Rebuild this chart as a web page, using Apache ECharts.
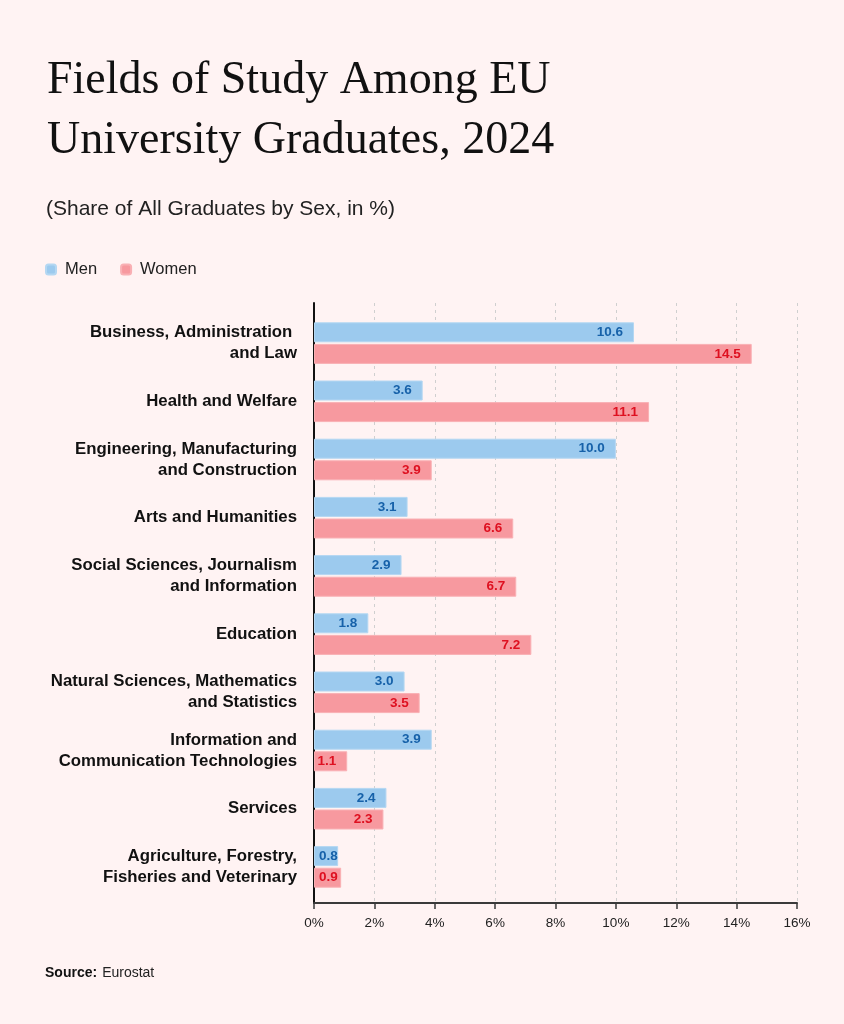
<!DOCTYPE html>
<html>
<head>
<meta charset="utf-8">
<script src="https://cdn.jsdelivr.net/npm/echarts@6/dist/echarts.min.js"></script>
<style>
html,body{margin:0;padding:0;background:#fff3f3;}
#chart{width:844px;height:1024px;}
</style>
</head>
<body>
<div id="chart"></div>
<script>
const categories = [
  'Business, Administration \nand Law',
  'Health and Welfare',
  'Engineering, Manufacturing\nand Construction',
  'Arts and Humanities',
  'Social Sciences, Journalism\nand Information',
  'Education',
  'Natural Sciences, Mathematics\nand Statistics',
  'Information and\nCommunication Technologies',
  'Services',
  'Agriculture, Forestry,\nFisheries and Veterinary'
];
const menValues   = [10.6, 3.6, 10.0, 3.1, 2.9, 1.8, 3.0, 3.9, 2.4, 0.8];
const womenValues = [14.5, 11.1, 3.9, 6.6, 6.7, 7.2, 3.5, 1.1, 2.3, 0.9];
const seriesNames = ['Men', 'Women'];
const xMin = 0, xMax = 16, xInterval = 2;
const tickSuffix = '%';

const FONT = '"Liberation Sans", Arial, Helvetica, sans-serif';
const SERIF = '"Liberation Serif", "Times New Roman", serif';

function buildData(values) {
  return values.map(v => ({
    value: v,
    label: v < 1
      ? { position: 'insideLeft', distance: 5 }
      : { position: 'insideRight', distance: 11 }
  }));
}

function barSeries(name, values, color, border, labelColor) {
  return {
    name: name,
    type: 'bar',
    xAxisIndex: 1,
    yAxisIndex: 1,
    barWidth: 20,
    barGap: '8%',
    data: buildData(values),
    itemStyle: { color: color, borderColor: border, borderWidth: 1 },
    label: {
      show: true,
      color: labelColor,
      fontFamily: FONT,
      fontWeight: 'bold',
      fontSize: 13.5,
      formatter: p => p.value.toFixed(1)
    },
    emphasis: { disabled: true }
  };
}

const chart = echarts.init(document.getElementById('chart'), null, { renderer: 'canvas' });
chart.setOption({
  backgroundColor: '#fff3f3',
  animation: false,
  title: [
    {
      text: 'Fields of Study Among EU\nUniversity Graduates, 2024',
      left: 47, top: 51, padding: 0,
      textStyle: { fontFamily: SERIF, fontSize: 46, fontWeight: 'normal', color: '#111', lineHeight: 60 }
    },
    {
      text: '(Share of All Graduates by Sex, in %)',
      left: 46, top: 199, padding: 0,
      textStyle: { fontFamily: FONT, fontSize: 21, fontWeight: 'normal', color: '#222', lineHeight: 21 }
    },
    {
      text: '{b|Source:} {r|Eurostat}',
      left: 45, top: 964, padding: 0,
      textStyle: {
        rich: {
          b: { fontFamily: FONT, fontSize: 14, fontWeight: 'bold', color: '#111' },
          r: { fontFamily: FONT, fontSize: 14, fontWeight: 'normal', color: '#222' }
        }
      }
    }
  ],
  legend: {
    data: seriesNames,
    left: 45, top: 261, padding: 0,
    icon: 'roundRect',
    itemWidth: 10, itemHeight: 10, itemGap: 23,
    textStyle: { fontFamily: FONT, fontSize: 16.5, color: '#222', padding: [0, 0, 0, 4] },
    selectedMode: false
  },
  grid: [
    { left: 314, right: 47, top: 303, bottom: 121, containLabel: false },
    { left: 314, right: 47, top: 314, bottom: 128, containLabel: false }
  ],
  xAxis: [
    {
      type: 'value', gridIndex: 0, min: xMin, max: xMax, interval: xInterval,
      axisLine: { show: true, onZero: false, lineStyle: { color: '#3a3a3a', width: 2 } },
      axisTick: { show: true, length: 6, lineStyle: { color: '#3a3a3a', width: 1.5 } },
      axisLabel: { formatter: '{value}' + tickSuffix, fontFamily: FONT, fontSize: 13.5, color: '#222', margin: 13 },
      splitLine: { show: true, lineStyle: { color: '#cfcfcf', type: [3, 4], width: 1 } }
    },
    {
      type: 'value', gridIndex: 1, min: xMin, max: xMax, interval: xInterval,
      show: false
    }
  ],
  yAxis: [
    {
      type: 'value', gridIndex: 0, min: 0, max: 1,
      axisLine: { show: true, lineStyle: { color: '#111', width: 2 } },
      axisTick: { show: false }, axisLabel: { show: false }, splitLine: { show: false }
    },
    {
      type: 'category', gridIndex: 1, data: categories, inverse: true,
      axisLine: { show: false }, axisTick: { show: false }, splitLine: { show: false },
      axisLabel: {
        fontFamily: FONT, fontSize: 16.8, fontWeight: 'bold', color: '#111',
        lineHeight: 21, margin: 17, align: 'right'
      }
    }
  ],
  series: [
    barSeries('Men', menValues, '#9ccaee', '#b4d7f2', '#1661a9'),
    barSeries('Women', womenValues, '#f7999f', '#f9b0b4', '#de1020')
  ]
});
</script>
</body>
</html>
